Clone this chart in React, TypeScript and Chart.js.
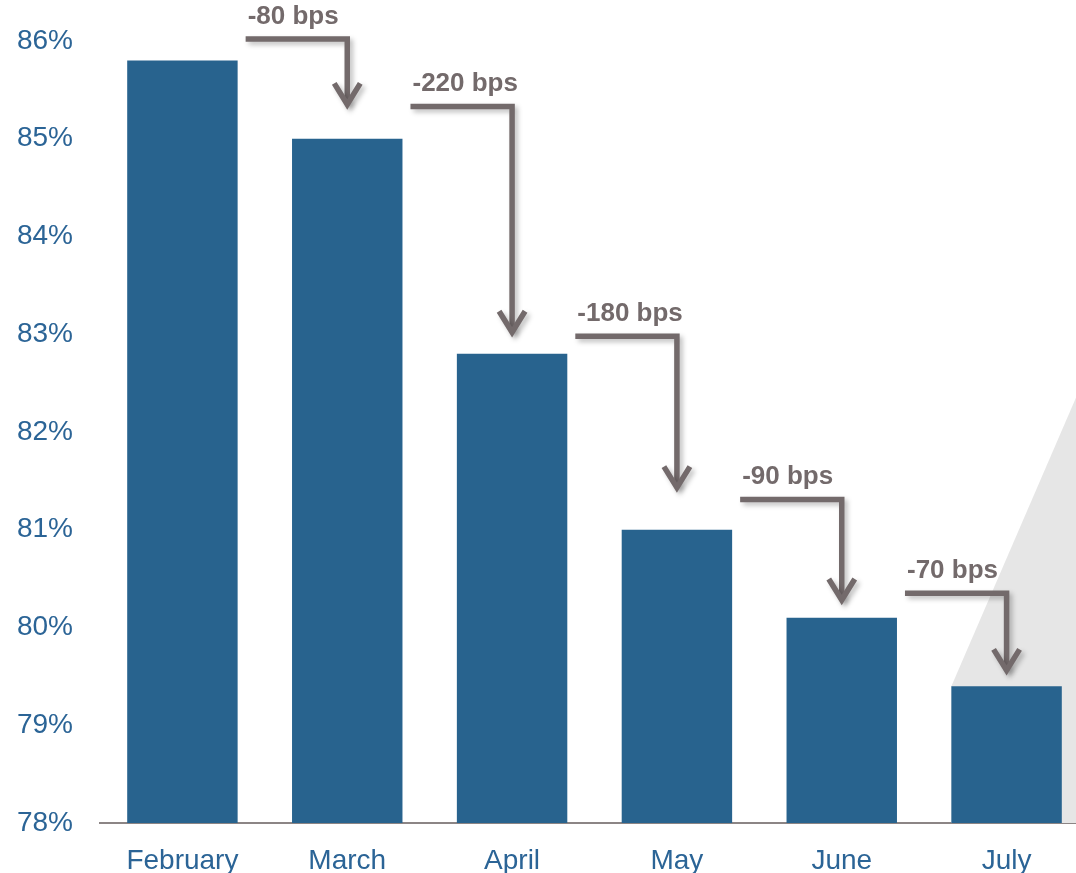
import React, { useEffect, useRef } from "react";
import { Chart, registerables } from "chart.js";

Chart.register(...registerables);

const months = ["February", "March", "April", "May", "June", "July"];
const values = [85.8, 85.0, 82.8, 81.0, 80.1, 79.4];
const changeLabels = ["-80 bps", "-220 bps", "-180 bps", "-90 bps", "-70 bps"];
// level (in %) of each arrow's horizontal run and of its tip
const arrowFrom = [86.02, 85.33, 82.98, 81.31, 80.35];
const arrowTo = [85.3, 82.97, 81.38, 80.23, 79.51];
const shadeTop = 82.66;
const yMin = 78;
const yMax = 86;

const BAR = "#28638E";
const TICK = "#2B6496";
const ARROW = "#736A6B";
const FONT = "Arial, 'Liberation Sans', sans-serif";

const shadePlugin = {
  id: "shade",
  beforeDatasetsDraw(chart: any) {
    const { ctx, chartArea, scales } = chart;
    const meta = chart.getDatasetMeta(0);
    const last = meta.data[meta.data.length - 1];
    if (!last) return;
    const left = last.x - last.width / 2;
    ctx.save();
    ctx.fillStyle = "#E6E6E6";
    ctx.beginPath();
    ctx.moveTo(chartArea.right, scales.y.getPixelForValue(shadeTop));
    ctx.lineTo(left, last.y);
    ctx.lineTo(left, chartArea.bottom);
    ctx.lineTo(chartArea.right, chartArea.bottom);
    ctx.closePath();
    ctx.fill();
    ctx.restore();
  },
};

const arrowPlugin = {
  id: "arrows",
  afterDatasetsDraw(chart: any) {
    const { ctx, scales } = chart;
    const meta = chart.getDatasetMeta(0);
    ctx.save();
    for (let i = 0; i < changeLabels.length; i++) {
      const prev = meta.data[i];
      const next = meta.data[i + 1];
      if (!prev || !next) continue;
      const sx = prev.x + prev.width / 2 + 8;
      const ex = next.x;
      const yh = scales.y.getPixelForValue(arrowFrom[i]);
      const yt = scales.y.getPixelForValue(arrowTo[i]);
      const vy = yt - 5;
      ctx.shadowColor = "rgba(0,0,0,0.25)";
      ctx.shadowBlur = 5;
      ctx.shadowOffsetX = 3;
      ctx.shadowOffsetY = 3;
      ctx.strokeStyle = ARROW;
      ctx.lineWidth = 5.5;
      ctx.lineJoin = "miter";
      ctx.lineCap = "butt";
      ctx.beginPath();
      ctx.moveTo(sx, yh);
      ctx.lineTo(ex, yh);
      ctx.lineTo(ex, vy);
      ctx.stroke();
      ctx.beginPath();
      ctx.moveTo(ex - 13, vy - 21);
      ctx.lineTo(ex, vy);
      ctx.lineTo(ex + 13, vy - 21);
      ctx.stroke();
      ctx.shadowColor = "transparent";
      ctx.shadowBlur = 0;
      ctx.shadowOffsetX = 0;
      ctx.shadowOffsetY = 0;
      ctx.fillStyle = ARROW;
      ctx.font = `bold 26px ${FONT}`;
      ctx.textAlign = "left";
      ctx.textBaseline = "alphabetic";
      ctx.fillText(changeLabels[i], sx + 2, yh - 15);
    }
    ctx.restore();
  },
};

export default function App() {
  const ref = useRef<HTMLCanvasElement | null>(null);
  useEffect(() => {
    if (!ref.current) return;
    const chart = new Chart(ref.current, {
      type: "bar",
      data: {
        labels: months,
        datasets: [
          {
            data: values,
            backgroundColor: BAR,
            borderWidth: 0,
            categoryPercentage: 1,
            barPercentage: 0.67,
          },
        ],
      },
      options: {
        animation: false,
        responsive: false,
        devicePixelRatio: 1,
        layout: { padding: { top: 41, right: 0, bottom: 0, left: 0 } },
        plugins: {
          legend: { display: false },
          tooltip: { enabled: false },
          title: { display: false },
        },
        scales: {
          x: {
            grid: { display: false },
            border: { display: true, color: "#8C8585", width: 2 },
            ticks: {
              color: TICK,
              font: { family: FONT, size: 28 },
              padding: 13,
              maxRotation: 0,
            },
            afterFit(scale: any) {
              scale.height = 50;
            },
          },
          y: {
            min: yMin,
            max: yMax,
            grid: { display: false },
            border: { display: false },
            ticks: {
              stepSize: 1,
              color: TICK,
              font: { family: FONT, size: 28 },
              padding: 19,
              callback: (v: any) => `${v}%`,
            },
            afterFit(scale: any) {
              scale.width = 100;
            },
          },
        },
      },
      plugins: [shadePlugin, arrowPlugin],
    });
    return () => chart.destroy();
  }, []);
  return (
    <div
      style={{
        position: "fixed",
        left: 0,
        top: 0,
        width: 1076,
        height: 873,
        overflow: "hidden",
        background: "#fff",
      }}
    >
      <canvas ref={ref} width={1089} height={873} style={{ display: "block" }} />
    </div>
  );
}
